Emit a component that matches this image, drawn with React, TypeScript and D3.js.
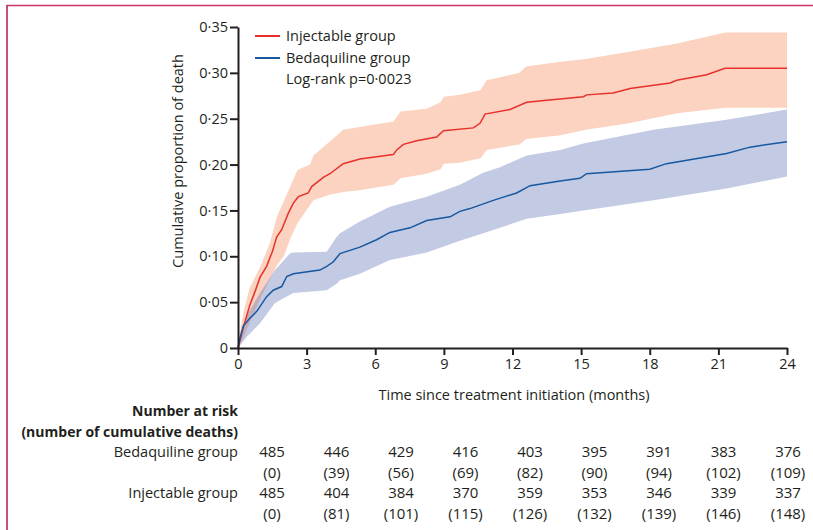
import React, { useRef, useEffect } from 'react';
import * as d3 from 'd3';

// Kaplan-Meier cumulative incidence
const injTimes = [0, 0.25, 0.52, 0.75, 0.96, 1.25, 1.5, 1.69, 1.91, 2.2, 2.42, 2.64, 3.07, 3.22, 3.73, 4.02, 4.6, 5.33, 6.79, 6.94, 7.23, 7.81, 8.69, 8.98, 10.29, 10.58, 10.8, 11.89, 12.62, 13.5, 15.1, 15.24, 16.4, 17.14, 18.89, 19.18, 20.49, 21.29, 24];
const injValues = [0, 0.024, 0.047, 0.062, 0.077, 0.089, 0.105, 0.121, 0.129, 0.147, 0.158, 0.165, 0.169, 0.176, 0.186, 0.19, 0.201, 0.206, 0.211, 0.216, 0.222, 0.226, 0.23, 0.237, 0.24, 0.245, 0.255, 0.26, 0.268, 0.27, 0.274, 0.276, 0.278, 0.283, 0.289, 0.292, 0.298, 0.305, 0.305];

const injBandTimes = [0, 0.25, 0.5, 1.0, 1.4, 1.7, 2.0, 2.3, 2.6, 3.15, 3.3, 4.0, 4.6, 5.3, 6.8, 7.1, 8.25, 8.85, 9.0, 9.7, 10.6, 10.87, 12.3, 12.6, 14.1, 15.2, 17.1, 19.2, 21.3, 24];
const injUpper = [0.005, 0.04, 0.065, 0.09, 0.115, 0.143, 0.16, 0.177, 0.194, 0.2, 0.21, 0.225, 0.238, 0.241, 0.247, 0.258, 0.261, 0.268, 0.274, 0.276, 0.281, 0.292, 0.3, 0.307, 0.312, 0.315, 0.323, 0.332, 0.344, 0.344];
const injLower = [0, 0.012, 0.027, 0.055, 0.075, 0.09, 0.1, 0.12, 0.136, 0.156, 0.161, 0.167, 0.17, 0.172, 0.178, 0.185, 0.19, 0.195, 0.201, 0.202, 0.207, 0.216, 0.222, 0.228, 0.232, 0.238, 0.245, 0.256, 0.262, 0.262];

const bdqTimes = [0, 0.1, 0.23, 0.5, 0.82, 1.25, 1.54, 1.91, 2.13, 2.42, 3.58, 3.88, 4.17, 4.46, 5.33, 6.06, 6.64, 7.52, 8.25, 9.27, 9.7, 10.14, 11.16, 12.18, 12.77, 14.08, 14.95, 15.24, 18.0, 18.73, 21.36, 22.38, 24];
const bdqValues = [0, 0.012, 0.024, 0.032, 0.04, 0.056, 0.063, 0.067, 0.078, 0.081, 0.085, 0.089, 0.094, 0.103, 0.11, 0.118, 0.126, 0.131, 0.139, 0.143, 0.149, 0.152, 0.161, 0.169, 0.177, 0.182, 0.185, 0.19, 0.195, 0.201, 0.212, 0.219, 0.225];

const bdqBandTimes = [0, 0.38, 0.96, 1.62, 2.27, 2.42, 3.88, 4.31, 4.46, 5.33, 6.64, 8.25, 9.7, 10.72, 11.45, 12.62, 14.08, 15.1, 18.16, 21.36, 24];
const bdqUpper = [0.005, 0.035, 0.06, 0.085, 0.103, 0.104, 0.105, 0.121, 0.125, 0.138, 0.154, 0.165, 0.178, 0.191, 0.197, 0.21, 0.216, 0.223, 0.238, 0.249, 0.26];
const bdqLower = [0, 0.012, 0.027, 0.049, 0.058, 0.06, 0.063, 0.07, 0.074, 0.081, 0.096, 0.104, 0.117, 0.125, 0.131, 0.141, 0.146, 0.15, 0.161, 0.174, 0.187];

// number at risk table
const riskColumns = ['0', '3', '6', '9', '12', '15', '18', '21', '24'];
const bdqAtRisk = [485, 446, 429, 416, 403, 395, 391, 383, 376];
const bdqDeaths = [0, 39, 56, 69, 82, 90, 94, 102, 109];
const injAtRisk = [485, 404, 384, 370, 359, 353, 346, 339, 337];
const injDeaths = [0, 81, 101, 115, 126, 132, 139, 146, 148];

const yTicks = [0, 0.05, 0.1, 0.15, 0.2, 0.25, 0.3, 0.35];
const xTicks = [0, 3, 6, 9, 12, 15, 18, 21, 24];

const W = 813;
const H = 530;
const FONT = "'Open Sans', sans-serif";
const INK = '#231f20';

export default function App() {
  const xAxisRef = useRef(null);
  const yAxisRef = useRef(null);

  const x = d3.scaleLinear().domain([0, 24]).range([238, 787]);
  const y = d3.scaleLinear().domain([0, 0.35]).range([348, 27]);
  const col = d3.scalePoint().domain(riskColumns).range([272, 788]);

  const line = d3
    .line<[number, number]>()
    .x(d => x(d[0]))
    .y(d => y(d[1]));
  const band = d3
    .area<[number, number, number]>()
    .x(d => x(d[0]))
    .y0(d => y(d[1]))
    .y1(d => y(d[2]));

  const injLine = injTimes.map((t, i) => [t, injValues[i]] as [number, number]);
  const bdqLine = bdqTimes.map((t, i) => [t, bdqValues[i]] as [number, number]);
  const injBand = injBandTimes.map((t, i) => [t, injLower[i], injUpper[i]] as [number, number, number]);
  const bdqBand = bdqBandTimes.map((t, i) => [t, bdqLower[i], bdqUpper[i]] as [number, number, number]);

  useEffect(() => {
    const fmt = (d: number) => (d === 0 ? '0' : d3.format('.2f')(d).replace('.', '·'));
    const yAxis = d3
      .select(yAxisRef.current)
      .call(d3.axisLeft(y).tickValues(yTicks).tickSize(8).tickSizeOuter(0).tickPadding(2).tickFormat(fmt as any));
    const xAxis = d3
      .select(xAxisRef.current)
      .call(d3.axisBottom(x).tickValues(xTicks).tickSize(7).tickSizeOuter(0).tickPadding(4));
    [yAxis, xAxis].forEach(g => {
      g.selectAll('path, line').attr('stroke', INK).attr('stroke-width', 2);
      g.selectAll('text')
        .attr('fill', INK)
        .style('font-family', FONT)
        .style('font-size', '14.5px');
    });
  }, []);

  const labelStyle = { fontFamily: FONT, fontSize: 14.5, fill: INK } as const;
  const boldStyle = { fontFamily: FONT, fontSize: 14, fontWeight: 700, fill: INK } as const;
  const numStyle = { fontFamily: FONT, fontSize: 15, fill: INK } as const;

  return (
    <svg
      width={W}
      height={H}
      style={{ position: 'absolute', left: 0, top: 0, background: '#fff' }}
    >
      {/* journal frame */}
      <line x1={7} y1={5.5} x2={W} y2={5.5} stroke="#d0326a" strokeWidth={1.5} />
      <line x1={7} y1={5} x2={7} y2={H} stroke="#b8154c" strokeWidth={1.5} />

      {/* confidence bands */}
      <path d={band(injBand) ?? ''} fill="#fbd3c0" />
      <path d={band(bdqBand) ?? ''} fill="#5a6fb5" fillOpacity={0.37} />

      {/* curves */}
      <path d={line(injLine) ?? ''} fill="none" stroke="#e8302c" strokeWidth={1.5} />
      <path d={line(bdqLine) ?? ''} fill="none" stroke="#17589f" strokeWidth={1.5} />

      <g ref={yAxisRef} transform="translate(238,0)" />
      <g ref={xAxisRef} transform="translate(0,348)" />

      <text
        transform={`translate(183,161) rotate(-90)`}
        textAnchor="middle"
        style={labelStyle}
      >
        Cumulative proportion of death
      </text>
      <text x={514} y={400} textAnchor="middle" style={labelStyle}>
        Time since treatment initiation (months)
      </text>

      {/* legend */}
      <line x1={255} y1={36} x2={280} y2={36} stroke="#e8302c" strokeWidth={2} />
      <text x={286} y={41} style={labelStyle}>Injectable group</text>
      <line x1={255} y1={58} x2={280} y2={58} stroke="#17589f" strokeWidth={2} />
      <text x={286} y={63} style={labelStyle}>Bedaquiline group</text>
      <text x={286} y={84} style={labelStyle}>Log-rank p=0·0023</text>

      {/* number at risk */}
      <text x={238} y={416} textAnchor="end" style={boldStyle}>
        Number at risk
      </text>
      <text x={238} y={437} textAnchor="end" style={boldStyle}>
        (number of cumulative deaths)
      </text>
      <text x={238} y={457} textAnchor="end" style={labelStyle}>Bedaquiline group</text>
      <text x={238} y={498} textAnchor="end" style={labelStyle}>Injectable group</text>
      {riskColumns.map((c, i) => (
        <g key={c} style={numStyle}>
          <text x={col(c)} y={457} textAnchor="middle">{bdqAtRisk[i]}</text>
          <text x={col(c)} y={478} textAnchor="middle">({bdqDeaths[i]})</text>
          <text x={col(c)} y={498} textAnchor="middle">{injAtRisk[i]}</text>
          <text x={col(c)} y={519} textAnchor="middle">({injDeaths[i]})</text>
        </g>
      ))}
    </svg>
  );
}
